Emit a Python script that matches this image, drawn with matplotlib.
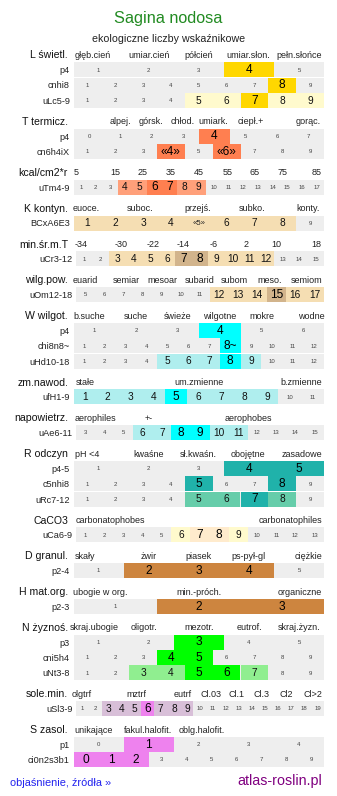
import matplotlib
matplotlib.use("Agg")
import matplotlib.pyplot as plt

plt.rcParams["font.family"] = ["Liberation Sans", "DejaVu Sans"]


def nums(a, b):
    return [str(i) for i in range(a, b + 1)]


TITLE = "Sagina nodosa"
SUBTITLE = "ekologiczne liczby wskaźnikowe"

# poziomy: 0 = brak, 1 = zakres, 2 = wartość główna
L_SCALE = ["głęb.cień", "umiar.cień", "półcień", "umiar.słon.", "pełn.słońce"]
L_ROWS = ["p4", "cnhi8", "uLc5-9"]
L_CELLS = [nums(1, 5), nums(1, 9), nums(1, 9)]
L_LEVELS = [[0, 0, 0, 2, 0],
            [0, 0, 0, 0, 0, 0, 0, 2, 0],
            [0, 0, 0, 0, 1, 1, 2, 1, 1]]

T_SCALE = ["alpej.", "górsk.", "chłod.", "umiark.", "ciepł.+", "gorąc."]
T_ROWS = ["p4", "cn6h4iX"]
T_CELLS = [nums(0, 7), ["1", "2", "3", "«4»", "5", "«6»", "7", "8", "9"]]
T_LEVELS = [[0, 0, 0, 0, 2, 0, 0, 0],
            [0, 0, 0, 2, 0, 2, 0, 0, 0]]

KC_SCALE = ["5", "15", "25", "35", "45", "55", "65", "75", "85"]
KC_ROWS = ["uTm4-9"]
KC_CELLS = [nums(1, 17)]
KC_LEVELS = [[0, 0, 0, 1, 1, 2, 2, 1, 1, 0, 0, 0, 0, 0, 0, 0, 0]]

K_SCALE = ["euoce.", "suboc.", "przejś.", "subko.", "konty."]
K_ROWS = ["BCxA6E3"]
K_CELLS = [["1", "2", "3", "4", "«5»", "6", "7", "8", "9"]]
K_LEVELS = [[1, 1, 1, 1, 1, 1, 1, 1, 0]]

MT_SCALE = ["-34", "-30", "-22", "-14", "-6", "2", "10", "18"]
MT_ROWS = ["uCr3-12"]
MT_CELLS = [nums(1, 15)]
MT_LEVELS = [[0, 0, 1, 1, 1, 1, 2, 2, 1, 1, 1, 1, 0, 0, 0]]

WP_SCALE = ["euarid", "semiar", "mesoar", "subarid", "subom", "meso.", "semiom"]
WP_ROWS = ["uOm12-18"]
WP_CELLS = [nums(5, 17)]
WP_LEVELS = [[0, 0, 0, 0, 0, 0, 0, 1, 1, 1, 2, 1, 1]]

W_SCALE = ["b.suche", "suche", "świeże", "wilgotne", "mokre", "wodne"]
W_ROWS = ["p4", "chi8n8~", "uHd10-18"]
W_CELLS = [nums(1, 6), nums(1, 7) + ["8~"] + nums(9, 12), nums(1, 12)]
W_LEVELS = [[0, 0, 0, 2, 0, 0],
            [0, 0, 0, 0, 0, 0, 0, 2, 0, 0, 0, 0],
            [0, 0, 0, 0, 1, 1, 1, 2, 1, 0, 0, 0]]

ZM_SCALE = ["stałe", "um.zmienne", "b.zmienne"]
ZM_ROWS = ["ufH1-9"]
ZM_CELLS = [nums(1, 11)]
ZM_LEVELS = [[1, 1, 1, 1, 2, 1, 1, 1, 1, 0, 0]]

AE_SCALE = ["aerophiles", "+-", "aerophobes"]
AE_ROWS = ["uAe6-11"]
AE_CELLS = [nums(3, 15)]
AE_LEVELS = [[0, 0, 0, 1, 1, 2, 2, 1, 1, 0, 0, 0, 0]]

R_SCALE = ["pH <4", "kwaśne", "sł.kwaśn.", "obojętne", "zasadowe"]
R_ROWS = ["p4-5", "c5nhi8", "uRc7-12"]
R_CELLS = [nums(1, 5), nums(1, 9), nums(1, 9)]
R_LEVELS = [[0, 0, 0, 2, 2],
            [0, 0, 0, 0, 2, 0, 0, 2, 0],
            [0, 0, 0, 0, 1, 1, 2, 1, 0]]

CA_SCALE = ["carbonatophobes", "carbonatophiles"]
CA_ROWS = ["uCa6-9"]
CA_CELLS = [nums(1, 13)]
CA_LEVELS = [[0, 0, 0, 0, 0, 1, 2, 2, 1, 0, 0, 0, 0]]

D_SCALE = ["skały", "żwir", "piasek", "ps-pył-gl", "ciężkie"]
D_ROWS = ["p2-4"]
D_CELLS = [nums(1, 5)]
D_LEVELS = [[0, 2, 2, 2, 0]]

H_SCALE = ["ubogie w org.", "min.-próch.", "organiczne"]
H_ROWS = ["p2-3"]
H_CELLS = [nums(1, 3)]
H_LEVELS = [[0, 2, 2]]

N_SCALE = ["skraj.ubogie", "oligotr.", "mezotr.", "eutrof.", "skraj.żyzn."]
N_ROWS = ["p3", "cni5h4", "uNt3-8"]
N_CELLS = [nums(1, 5), nums(1, 9), nums(1, 9)]
N_LEVELS = [[0, 0, 2, 0, 0],
            [0, 0, 0, 2, 2, 0, 0, 0, 0],
            [0, 0, 1, 1, 2, 2, 1, 0, 0]]

SL_SCALE = ["olgtrf", "mztrf", "eutrf", "Cl.03", "Cl.1", "Cl.3", "Cl2", "Cl>2"]
SL_ROWS = ["uSl3-9"]
SL_CELLS = [nums(1, 19)]
SL_LEVELS = [[0, 0, 1, 1, 1, 2, 1, 1, 1, 0, 0, 0, 0, 0, 0, 0, 0, 0, 0]]

S_SCALE = ["unikające", "fakul.halofit.", "oblg.halofit."]
S_ROWS = ["p1", "ci0n2s3b1"]
S_CELLS = [nums(0, 4), nums(0, 9)]
S_LEVELS = [[0, 2, 0, 0, 0],
            [2, 2, 2, 0, 0, 0, 0, 0, 0, 0]]

# (nagłówek, skala, wiersze, komórki, poziomy, kolory [zakres, główna], x etykiet skali)
GROUPS = [
    ("L świetl.", L_SCALE, L_ROWS, L_CELLS, L_LEVELS, ("#fffacd", "#ffd700"),
     [93, 148.7, 198.7, 248.3, 299]),
    ("T termicz.", T_SCALE, T_ROWS, T_CELLS, T_LEVELS, ("#ffa07a", "#ff7f50"),
     [120.7, 151, 182.3, 213.3, 250.7, 308.3]),
    ("kcal/cm2*r", KC_SCALE, KC_ROWS, KC_CELLS, KC_LEVELS, ("#ffa07a", "#ff7f50"),
     [76, 115, 142.7, 171, 199, 227.3, 255, 282.7, 316.7]),
    ("K kontyn.", K_SCALE, K_ROWS, K_CELLS, K_LEVELS, ("#f5deb3", "#d2b48c"),
     [86, 140, 197.7, 251.7, 308.3]),
    ("min.śr.m.T", MT_SCALE, MT_ROWS, MT_CELLS, MT_LEVELS, ("#f5deb3", "#d2b48c"),
     [81, 120.7, 152.7, 183.3, 213.7, 245.7, 276, 316.7]),
    ("wilg.pow.", WP_SCALE, WP_ROWS, WP_CELLS, WP_LEVELS, ("#f5deb3", "#d2b48c"),
     [85, 126, 162.3, 199.3, 234.3, 270, 306.7]),
    ("W wilgot.", W_SCALE, W_ROWS, W_CELLS, W_LEVELS, ("#afeeee", "#00ffff"),
     [89.3, 135.7, 177.3, 219.3, 261.7, 311.7]),
    ("zm.nawod.", ZM_SCALE, ZM_ROWS, ZM_CELLS, ZM_LEVELS, ("#afeeee", "#00ffff"),
     [85, 199, 301]),
    ("napowietrz.", AE_SCALE, AE_ROWS, AE_CELLS, AE_LEVELS, ("#afeeee", "#00ffff"),
     [95, 149, 248.3]),
    ("R odczyn", R_SCALE, R_ROWS, R_CELLS, R_LEVELS, ("#66cdaa", "#20b2aa"),
     [86.7, 149, 198.3, 248.3, 301.7]),
    ("CaCO3", CA_SCALE, CA_ROWS, CA_CELLS, CA_LEVELS, ("#fffacd", "#ffebcd"),
     [110, 290]),
    ("D granul.", D_SCALE, D_ROWS, D_CELLS, D_LEVELS, ("#deb887", "#cd853f"),
     [85, 148.3, 198.3, 248.3, 308.3]),
    ("H mat.org.", H_SCALE, H_ROWS, H_CELLS, H_LEVELS, ("#deb887", "#cd853f"),
     [100, 199, 300]),
    ("N żyznoś.", N_SCALE, N_ROWS, N_CELLS, N_LEVELS, ("#90ee90", "#00ff00"),
     [94, 144, 199, 249, 299]),
    ("sole.min.", SL_SCALE, SL_ROWS, SL_CELLS, SL_LEVELS, ("#d8bfd8", "#ee82ee"),
     [82, 136, 182.3, 211, 236.7, 261.7, 286, 313.3]),
    ("S zasol.", S_SCALE, S_ROWS, S_CELLS, S_LEVELS, ("#d8bfd8", "#ee82ee"),
     [93.3, 147.7, 201.7]),
]

WIDE_ROWS = {"uCr3-12", "uOm12-18", "uAe6-11", "uCa6-9", "uSl3-9"}
GREY = "#eeeeee"
ROW_STEP = 15.3
GROUP_STEP = 35.8
BAR_H = 15.0
X_END = 324.0

fig = plt.figure(figsize=(3.37, 7.96), dpi=100)
ax = fig.add_axes([0, 0, 1, 1])
ax.set_xlim(0, 337)
ax.set_ylim(796, 0)
ax.axis("off")

ax.text(168.5, 19, TITLE, ha="center", va="center", fontsize=11.7, color="#228b22")
ax.text(168.5, 38.5, SUBTITLE, ha="center", va="center_baseline", fontsize=7.7, color="#222222")

y = 69.7 - GROUP_STEP
for head, scale, rows, cells, levels, cols, scale_x in GROUPS:
    y += GROUP_STEP
    hy = y - ROW_STEP
    ax.text(68, hy, head, ha="right", va="center_baseline", fontsize=7.6, color="#111111")
    for lab, sx in zip(scale, scale_x):
        ax.text(sx, hy, lab, ha="center", va="center_baseline", fontsize=6.5, color="#222222")
    for r, (row, cl, lv) in enumerate(zip(rows, cells, levels)):
        if r > 0:
            y += ROW_STEP
        x0 = 76.0 if row in WIDE_ROWS else 73.5
        n = len(cl)
        w = (X_END - x0) / n
        ax.text(x0 - 3.5, y, row, ha="right", va="center_baseline", fontsize=6.6, color="#222222")
        ax.barh(y, X_END - x0, left=x0, height=BAR_H, color=GREY, linewidth=0)
        i = 0
        while i < n:
            j = i
            while j < n and lv[j] == lv[i]:
                j += 1
            if lv[i]:
                ax.barh(y, (j - i) * w, left=x0 + i * w, height=BAR_H,
                        color=cols[lv[i] - 1], linewidth=0)
            i = j
        for k, (txt, l) in enumerate(zip(cl, lv)):
            if l == 0:
                fs, c = 4.3, "#444444"
            elif txt.startswith("«") and l == 1:
                fs, c = 5.6, "#222222"
            elif l == 1:
                fs, c = 7.3, "#111111"
            else:
                fs, c = 8.6, "#000000"
            ax.text(x0 + (k + 0.5) * w, y + 0.3, txt, ha="center", va="center",
                    fontsize=fs, color=c)

ax.text(10, 782, "objaśnienie, źródła »", ha="left", va="center_baseline",
        fontsize=7.9, color="#2222ee")
ax.text(322, 780, "atlas-roslin.pl", ha="right", va="center_baseline",
        fontsize=10.3, color="#800080")

fig.savefig("out.png", dpi=100)
